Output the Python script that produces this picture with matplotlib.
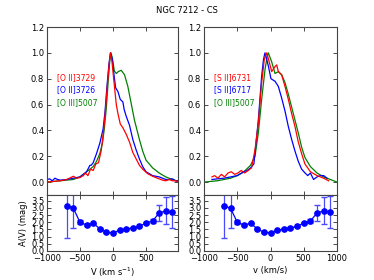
import numpy as np
import matplotlib
matplotlib.use("Agg")
import matplotlib.pyplot as plt

# NGC 7212 - CS, line profiles and extinction vs velocity

# left panel: [O II] and [O III] profiles
v_o2_29 = [-1000, -900, -800, -700, -600, -550, -500, -450, -420, -380, -340, -300, -260, -220, -180, -150,
           -120, -90, -60, -39, -15, 20, 50, 75, 110, 150, 200, 250, 300, 350, 400, 450, 525, 600, 650,
           700, 750, 800, 850, 900, 950, 985]
f_o2_29 = [0.0, 0.005, 0.01, 0.02, 0.045, 0.03, 0.035, 0.05, 0.07, 0.05, 0.10, 0.09, 0.14, 0.15, 0.24, 0.36,
           0.52, 0.72, 0.9, 1.0, 0.93, 0.75, 0.6, 0.53, 0.45, 0.42, 0.37, 0.31, 0.23, 0.18, 0.13, 0.1, 0.065,
           0.045, 0.035, 0.025, 0.015, 0.01, 0.02, 0.01, 0.01, 0.0]

v_o2_26 = [-1000, -960, -920, -880, -840, -800, -700, -600, -500, -450, -400, -350, -330, -300, -250, -200,
           -150, -120, -90, -60, -38, -10, 15, 40, 75, 110, 150, 170, 200, 250, 300, 350, 400, 450, 500,
           600, 700, 800, 850, 900, 950, 985]
f_o2_26 = [0.02, 0.025, 0.01, 0.03, 0.02, 0.015, 0.02, 0.03, 0.04, 0.06, 0.08, 0.13, 0.13, 0.15, 0.22, 0.30,
           0.41, 0.55, 0.75, 0.92, 1.0, 0.95, 0.83, 0.73, 0.7, 0.64, 0.62, 0.56, 0.51, 0.44, 0.33, 0.25, 0.18,
           0.12, 0.08, 0.05, 0.04, 0.02, 0.02, 0.025, 0.01, 0.01]

v_o3_l = [-1000, -800, -600, -500, -450, -400, -350, -300, -250, -200, -160, -130, -100, -70, -45, -30, -10,
          20, 50, 80, 125, 175, 225, 275, 325, 400, 450, 500, 600, 700, 800, 900, 985]
f_o3_l = [0.0, 0.01, 0.02, 0.04, 0.06, 0.08, 0.1, 0.12, 0.16, 0.22, 0.3, 0.42, 0.58, 0.8, 0.96, 1.0, 0.96,
          0.86, 0.84, 0.855, 0.865, 0.83, 0.74, 0.61, 0.48, 0.33, 0.24, 0.17, 0.11, 0.07, 0.04, 0.02, 0.005]

# right panel: [S II] and [O III] profiles
v_s2_31 = [-880, -840, -790, -740, -690, -640, -590, -540, -490, -440, -390, -335, -285, -233, -183, -133,
           -93, -57, -30, 18, 68, 93, 118, 168, 218, 268, 318, 368, 418, 468, 518, 600, 700, 800, 875]
f_s2_31 = [0.04, 0.05, 0.03, 0.06, 0.04, 0.07, 0.08, 0.06, 0.07, 0.09, 0.07, 0.09, 0.11, 0.25, 0.455, 0.77,
           0.95, 1.0, 0.95, 0.855, 0.894, 0.907, 0.855, 0.83, 0.74, 0.64, 0.53, 0.43, 0.31, 0.22, 0.14, 0.08,
           0.05, 0.03, 0.01]

v_s2_17 = [-880, -800, -700, -600, -500, -400, -350, -300, -250, -183, -133, -105, -83, -33, 7, 68, 118,
           168, 218, 268, 318, 368, 418, 468, 520, 560, 600, 648, 700, 750, 800, 850]
f_s2_17 = [0.02, 0.025, 0.03, 0.04, 0.05, 0.08, 0.09, 0.11, 0.14, 0.48, 0.82, 0.95, 1.0, 0.9, 0.8, 0.78, 0.74,
           0.65, 0.55, 0.43, 0.33, 0.24, 0.16, 0.1, 0.07, 0.05, 0.07, 0.02, 0.04, 0.05, 0.05, 0.03]

v_o3_r = [-1000, -800, -600, -500, -400, -300, -233, -183, -133, -83, -50, -33, 18, 68, 118, 168, 218, 268,
          318, 368, 418, 468, 518, 600, 700, 800, 900, 1000]
f_o3_r = [0.0, 0.01, 0.03, 0.05, 0.08, 0.13, 0.2, 0.38, 0.64, 0.87, 0.97, 1.0, 0.93, 0.84, 0.855, 0.83, 0.77,
          0.68, 0.58, 0.48, 0.38, 0.27, 0.19, 0.12, 0.07, 0.04, 0.02, 0.0]

# bottom panels: A(V)
v_av = [-700, -600, -500, -400, -300, -200, -100, 0, 100, 200, 300, 400, 500, 600, 700, 800, 900]
av = [3.16, 2.97, 2.0, 1.81, 1.93, 1.55, 1.3, 1.28, 1.44, 1.53, 1.6, 1.72, 1.95, 2.09, 2.65, 2.79, 2.7]
av_err = [2.23, 1.37, 0.15, 0.05, 0.05, 0.05, 0.05, 0.05, 0.05, 0.05, 0.05, 0.05, 0.08, 0.15, 0.55, 0.94, 1.12]

fs = 6
plt.rcParams['font.family'] = 'DejaVu Sans'
plt.rcParams['font.size'] = fs

fig = plt.figure(figsize=(3.74, 2.8), dpi=100)

W, H = 374.0, 280.0
ax1 = fig.add_axes([47/W, 85/H, 131/W, 168/H])
ax2 = fig.add_axes([204/W, 85/H, 133/W, 168/H])
ax3 = fig.add_axes([47/W, 29/H, 131/W, 56/H])
ax4 = fig.add_axes([204/W, 29/H, 133/W, 56/H])

ax1.plot(v_o3_l, f_o3_l, color='g', lw=0.9)
ax1.plot(v_o2_26, f_o2_26, color='b', lw=0.9)
ax1.plot(v_o2_29, f_o2_29, color='r', lw=0.9)

ax2.plot(v_o3_r, f_o3_r, color='g', lw=0.9)
ax2.plot(v_s2_17, f_s2_17, color='b', lw=0.9)
ax2.plot(v_s2_31, f_s2_31, color='r', lw=0.9)

lab_y = [0.70, 0.625, 0.548]
for ax, names in ((ax1, ['[O II]3729', '[O II]3726', '[O III]5007']),
                  (ax2, ['[S II]6731', '[S II]6717', '[O III]5007'])):
    for name, yy, c in zip(names, lab_y, ['r', 'b', 'g']):
        ax.text(0.075, yy, name, color=c, transform=ax.transAxes, fontsize=5.5, va='center')

for ax in (ax3, ax4):
    ax.errorbar(v_av, av, yerr=av_err, fmt='o-', color='b', ecolor='#4a4aff', lw=0.9,
                markersize=3.8, capsize=2, elinewidth=0.9)
    ax.set_ylim(0, 3.9)
    ax.set_yticks(np.arange(0, 3.6, 0.5))

for ax in (ax1, ax2):
    ax.set_ylim(-0.1, 1.2)
    ax.set_yticks(np.arange(0, 1.21, 0.2))
    ax.tick_params(labelbottom=False)

for ax in (ax1, ax3):
    ax.set_xlim(-1000, 985)
    ax.set_xticks([-1000, -500, 0, 500])
for ax in (ax2, ax4):
    ax.set_xlim(-1000, 1000)
    ax.set_xticks([-1000, -500, 0, 500, 1000])

for ax in (ax1, ax2, ax3, ax4):
    ax.tick_params(direction='in', top=True, right=True, labelsize=fs, length=3, width=0.5, pad=2)
    for s in ax.spines.values():
        s.set_linewidth(0.8)
        s.set_color('#444444')

ax3.set_xlabel('V (km s$^{-1}$)', fontsize=fs, labelpad=2)
ax4.set_xlabel('v (km/s)', fontsize=fs, labelpad=2)
ax3.set_ylabel('A(V) (mag)', fontsize=fs, labelpad=2)

fig.text(0.5, 0.963, 'NGC 7212 - CS', ha='center', va='center', fontsize=fs)

fig.savefig('out.png', dpi=100)
